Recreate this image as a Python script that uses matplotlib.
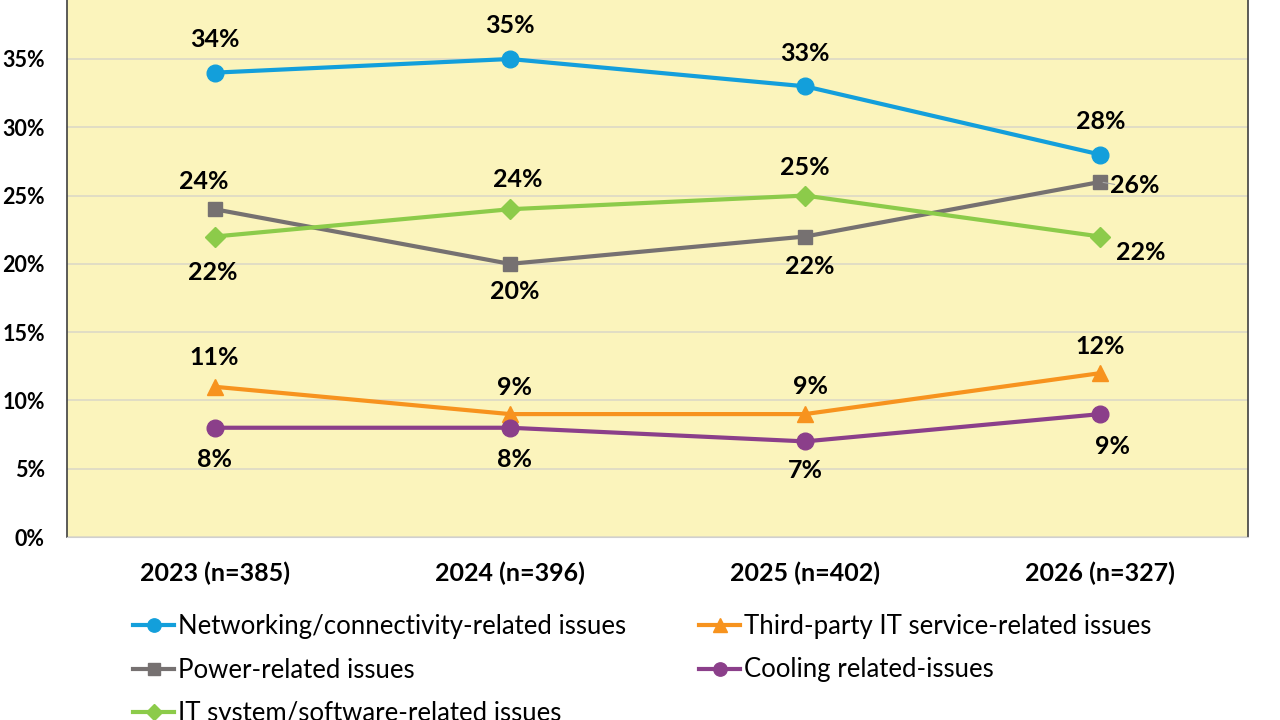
import matplotlib
matplotlib.use("Agg")
import matplotlib.pyplot as plt
from matplotlib.ticker import FuncFormatter

plt.rcParams['font.family'] = ['Lato', 'DejaVu Sans']

categories = ["2023 (n=385)", "2024 (n=396)", "2025 (n=402)", "2026 (n=327)"]
networking = [34, 35, 33, 28]
power = [24, 20, 22, 26]
it_system = [22, 24, 25, 22]
third_party = [11, 9, 9, 12]
cooling = [8, 8, 7, 9]

series = [
    ("Networking/connectivity-related issues", networking, "#139FDB", "o", 12,
     [(0, 33), (0, 33), (0, 33), (0, 33)]),
    ("Power-related issues", power, "#767171", "s", 10.5,
     [(-11, 28), (5, -28), (5, -30), (34, -4)]),
    ("IT system/software-related issues", it_system, "#8CCB4A", "D", 10.5,
     [(-2, -36), (8, 30), (0, 28), (40, -16)]),
    ("Third-party IT service-related issues", third_party, "#F7931E", "^", 12,
     [(0, 29), (5, 27), (5, 28), (0, 27)]),
    ("Cooling related-issues", cooling, "#8B3F8A", "o", 12,
     [(0, -32), (5, -32), (0, -29), (12, -32)]),
]

fig = plt.figure(figsize=(12.8, 7.2), dpi=100)
ax = fig.add_axes([67/1280, 1 - 537/720, (1248-67)/1280, 537/720])
ax.set_facecolor("#FBF4BC")

x = list(range(len(categories)))
handles = []
for name, vals, color, marker, ms, offs in series:
    h, = ax.plot(x, vals, color=color, lw=3, marker=marker, ms=ms, label=name,
                 markeredgecolor=color, zorder=3)
    handles.append(h)
    for xi, v, off in zip(x, vals, offs):
        ax.annotate(f"{v}%", (xi, v), xytext=off, textcoords="offset pixels",
                    ha="center", va="center", fontsize=18, fontweight="bold",
                    color="black", zorder=4)

# leader line for Power 2026
ax.annotate("", xy=(3, 26), xytext=(17, -3), textcoords="offset pixels",
            xycoords="data", arrowprops=dict(arrowstyle="-", color="#A6A6A6", lw=0.8))

ax.set_xlim(-0.5, 3.5)
ax.set_ylim(0, 39.32)
ax.set_yticks([0, 5, 10, 15, 20, 25, 30, 35])
ax.yaxis.set_major_formatter(FuncFormatter(lambda v, p: f"{int(v)}%"))
ax.set_xticks(x)
ax.set_xticklabels(categories)
ax.grid(axis="y", color="#DCD9C6", lw=1.2, zorder=0)
ax.set_axisbelow(True)
ax.tick_params(axis="both", length=0)
ax.tick_params(axis="y", pad=16, labelsize=15.5)
ax.tick_params(axis="x", pad=18, labelsize=18)
for lab in ax.get_xticklabels() + ax.get_yticklabels():
    lab.set_fontweight("bold")

ax.spines["left"].set_color("#404040")
ax.spines["left"].set_linewidth(1.2)
ax.spines["right"].set_color("#404040")
ax.spines["right"].set_linewidth(1.2)
ax.spines["bottom"].set_color("#D0D0D0")
ax.spines["top"].set_visible(False)

order = [0, 1, 2, 3, 4]
fig.legend([handles[i] for i in order], [series[i][0] for i in order],
           loc="upper left", bbox_to_anchor=(133/1280, 1 - 614/720), ncol=2,
           frameon=False, fontsize=18.5, handlelength=1.6, handletextpad=0.15,
           columnspacing=2.85, labelspacing=0.72, borderpad=0, borderaxespad=0,
           markerscale=0.8)

fig.savefig("out.png", dpi=100)
